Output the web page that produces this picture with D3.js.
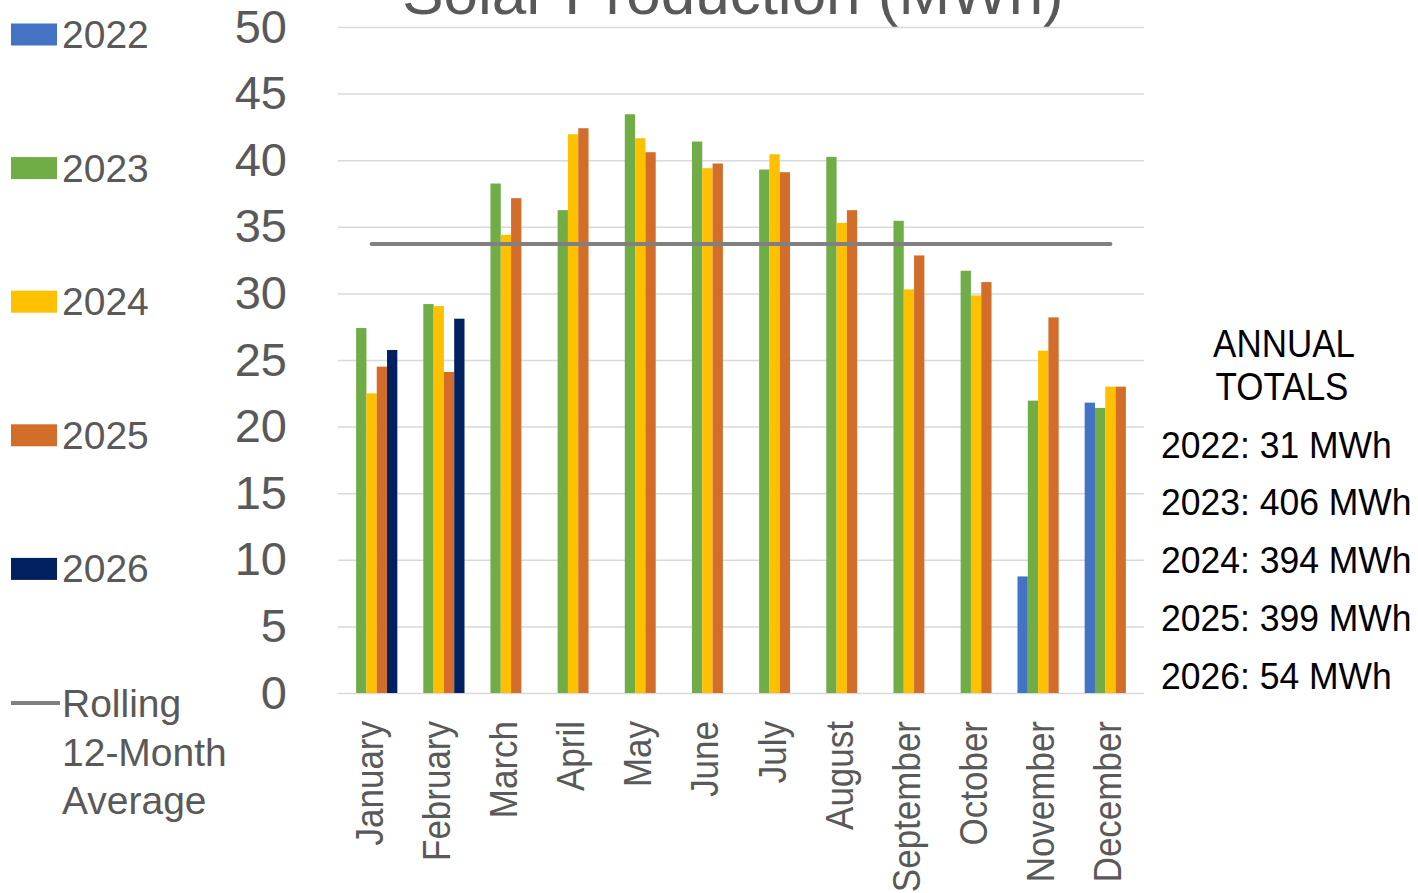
<!DOCTYPE html>
<html>
<head>
<meta charset="utf-8">
<script src="https://cdn.jsdelivr.net/npm/d3@7"></script>
<style>
  html, body { margin: 0; padding: 0; background: #fff; }
  svg { display: block; font-family: "Liberation Sans", Arial, sans-serif; }
</style>
</head>
<body>
<svg id="chart" width="1418" height="893"></svg>
<script>
// chart data
const months = ["January", "February", "March", "April", "May", "June",
  "July", "August", "September", "October", "November", "December"];
const years = ["2022", "2023", "2024", "2025", "2026"];
const values2022 = [null, null, null, null, null, null, null, null, null, null, 8.75, 21.8];
const values2023 = [27.4, 29.2, 38.25, 36.25, 43.45, 41.4, 39.3, 40.25, 35.45, 31.7, 21.95, 21.4];
const values2024 = [22.5, 29.05, 34.4, 41.95, 41.65, 39.4, 40.45, 35.3, 30.3, 29.85, 25.7, 23.0];
const values2025 = [24.5, 24.1, 37.15, 42.4, 40.6, 39.75, 39.1, 36.25, 32.85, 30.85, 28.2, 23.0];
const values2026 = [25.75, 28.1, null, null, null, null, null, null, null, null, null, null];
const rollingAvg = [33.7, 33.7, 33.7, 33.7, 33.7, 33.7, 33.7, 33.7, 33.7, 33.7, 33.7, 33.7];
const yTicks = [0, 5, 10, 15, 20, 25, 30, 35, 40, 45, 50];
const annualTotals = ["2022: 31 MWh", "2023: 406 MWh", "2024: 394 MWh", "2025: 399 MWh", "2026: 54 MWh"];

const seriesValues = [values2022, values2023, values2024, values2025, values2026];
const colors = ["#4472C4", "#70AD47", "#FFC000", "#D26E2A", "#002060"];

const svg = d3.select("#chart");
const plotLeft = 338, plotRight = 1144, plotTop = 27, plotBottom = 693;
const textGrey = "#595959";

const x0 = d3.scaleBand().domain(months).range([plotLeft, plotRight]).paddingInner(0);
const x1 = d3.scaleBand().domain(years).range([0, x0.bandwidth()]).paddingInner(0).paddingOuter(0.76);
const y = d3.scaleLinear().domain([0, 50]).range([plotBottom, plotTop]);

// title (partly cut off at the top)
svg.append("text")
  .attr("x", 733).attr("y", 14)
  .attr("text-anchor", "middle")
  .attr("font-size", 62)
  .attr("fill", textGrey)
  .text("Solar Production (MWh)");

// gridlines
svg.append("g")
  .attr("transform", `translate(${plotLeft},0)`)
  .call(d3.axisLeft(y).tickValues(yTicks).tickSize(-(plotRight - plotLeft)).tickFormat(""))
  .call(g => g.select(".domain").remove())
  .call(g => g.selectAll("line").attr("stroke", "#d9d9d9").attr("stroke-width", 1.5));

// y axis labels
svg.append("g")
  .attr("transform", `translate(${plotLeft},0)`)
  .call(d3.axisLeft(y).tickValues(yTicks).tickSize(0).tickPadding(51))
  .call(g => g.select(".domain").remove())
  .call(g => g.selectAll("text")
    .attr("font-size", 47)
    .attr("font-family", "Liberation Sans, Arial, sans-serif")
    .attr("fill", textGrey));

// bars
const groups = svg.append("g")
  .selectAll("g")
  .data(months)
  .join("g")
  .attr("transform", d => `translate(${x0(d)},0)`);

groups.selectAll("rect")
  .data((m, i) => years.map((yr, k) => ({ year: yr, value: seriesValues[k][i], color: colors[k] }))
    .filter(d => d.value != null))
  .join("rect")
  .attr("x", d => x1(d.year))
  .attr("y", d => y(d.value))
  .attr("width", x1.bandwidth())
  .attr("height", d => y(0) - y(d.value))
  .attr("fill", d => d.color);

// rolling 12-month average line
const line = d3.line()
  .x((d, i) => x0(months[i]) + x0.bandwidth() / 2)
  .y(d => y(d));

svg.append("path")
  .datum(rollingAvg)
  .attr("d", line)
  .attr("fill", "none")
  .attr("stroke", "#808080")
  .attr("stroke-width", 4)
  .attr("stroke-linecap", "round");

// month labels
svg.append("g")
  .attr("transform", `translate(0,${plotBottom})`)
  .call(d3.axisBottom(x0).tickSize(0))
  .call(g => g.select(".domain").remove())
  .call(g => g.selectAll("text")
    .attr("dy", null)
    .attr("transform", "translate(0,28) rotate(-90) scale(1,1.12)")
    .attr("x", 0).attr("y", 9.8)
    .attr("text-anchor", "end")
    .attr("font-size", 35)
    .attr("font-family", "Liberation Sans, Arial, sans-serif")
    .attr("fill", textGrey));

// legend
const legend = svg.append("g");
years.forEach((yr, k) => {
  const cy = 34.5 + k * 133.6;
  legend.append("rect")
    .attr("x", 11).attr("y", cy - 11)
    .attr("width", 46).attr("height", 22)
    .attr("fill", colors[k]);
  legend.append("text")
    .attr("x", 62).attr("y", cy + 13.5)
    .attr("font-size", 39)
    .attr("fill", textGrey)
    .text(yr);
});
legend.append("line")
  .attr("x1", 11).attr("x2", 60)
  .attr("y1", 703).attr("y2", 703)
  .attr("stroke", "#808080").attr("stroke-width", 4);
["Rolling", "12-Month", "Average"].forEach((t, i) => {
  legend.append("text")
    .attr("x", 62).attr("y", 717 + i * 48.5)
    .attr("font-size", 39)
    .attr("fill", textGrey)
    .text(t);
});

// annual totals box
const notes = svg.append("g");
[["ANNUAL", 1284, 357], ["TOTALS", 1282, 400]].forEach(([t, x, yy]) => {
  notes.append("text")
    .attr("transform", `translate(${x},${yy}) scale(1,1.12)`)
    .attr("text-anchor", "middle")
    .attr("font-size", 35)
    .attr("fill", "#000")
    .text(t);
});
annualTotals.forEach((t, i) => {
  notes.append("text")
    .attr("transform", `translate(1161,${457.5 + i * 57.75}) scale(1,1.06)`)
    .attr("font-size", 35.5)
    .attr("fill", "#000")
    .text(t);
});
</script>
</body>
</html>
